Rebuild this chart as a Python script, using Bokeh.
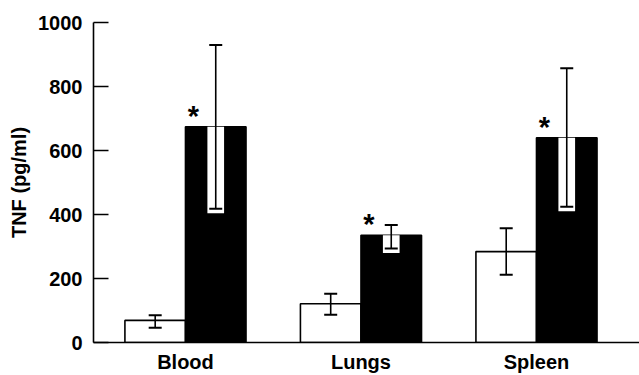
from bokeh.plotting import figure
from bokeh.models import Range1d, FixedTicker, Whisker, ColumnDataSource, TeeHead
from bokeh.core.properties import value
from bokeh.embed import file_html
from bokeh.resources import INLINE

tissues = ["Blood", "Lungs", "Spleen"]
control_mean = [69, 121, 284]
control_low = [46, 87, 212]
control_high = [85, 152, 357]
treated_mean = [674, 335, 640]
treated_low = [418, 294, 424]
treated_high = [930, 367, 857]
significance = ["*", "*", "*"]
y_ticks = [0, 200, 400, 600, 800, 1000]

FONT = "Liberation Sans"
BAR_W = 0.345
STRIP_W = 0.095
STRIP_PAD = 14

idx = list(range(len(tissues)))
x_ctrl = [i - BAR_W / 2 for i in idx]
x_trt = [i + BAR_W / 2 for i in idx]

p = figure(width=639, height=375, output_backend="svg", toolbar_location=None,
           x_range=Range1d(-0.524, 2.587), y_range=Range1d(0, 1000),
           min_border_left=93, min_border_right=0, min_border_top=22,
           min_border_bottom=31)
p.outline_line_color = None
p.xgrid.visible = False
p.ygrid.visible = False

# bars
p.vbar(x=x_ctrl, top=control_mean, bottom=0, width=BAR_W,
       fill_color="white", line_color="black", line_width=1.6)
p.vbar(x=x_trt, top=treated_mean, bottom=0, width=BAR_W,
       fill_color="black", line_color="black", line_width=1.6)

# white strip inside treated bars (lower error)
strip_bottom = [lo - STRIP_PAD for lo in treated_low]
p.quad(left=[x - STRIP_W / 2 for x in x_trt], right=[x + STRIP_W / 2 for x in x_trt],
       bottom=strip_bottom, top=treated_mean, fill_color="white", line_color=None)

# error bars
src_c = ColumnDataSource(dict(x=x_ctrl, lo=control_low, hi=control_high))
src_t = ColumnDataSource(dict(x=x_trt, lo=treated_low, hi=treated_high))
for src in (src_c, src_t):
    w = Whisker(source=src, base="x", lower="lo", upper="hi", level="overlay",
                line_color="black", line_width=1.6,
                upper_head=TeeHead(size=13, line_color="black", line_width=2),
                lower_head=TeeHead(size=13, line_color="black", line_width=2))
    p.add_layout(w)

# significance asterisks
p.text(x=[i + 0.045 for i in idx], y=treated_mean, text=significance,
       text_font=value(FONT), text_font_style="bold", text_font_size="29px",
       text_align="center", text_baseline="bottom", y_offset=5, text_color="black")

# axes
p.yaxis.ticker = FixedTicker(ticks=y_ticks)
p.yaxis.major_tick_in = 15
p.yaxis.major_tick_out = 0
p.yaxis.minor_tick_line_color = None
p.yaxis.axis_line_width = 1.6
p.yaxis.major_tick_line_width = 1.6
p.yaxis.major_label_standoff = 11
p.yaxis.major_label_text_font = FONT
p.yaxis.major_label_text_font_style = "bold"
p.yaxis.major_label_text_font_size = "20px"
p.yaxis.major_label_text_color = "black"
p.yaxis.axis_label = "TNF (pg/ml)"
p.yaxis.axis_label_text_font = FONT
p.yaxis.axis_label_text_font_style = "bold"
p.yaxis.axis_label_text_font_size = "20px"
p.yaxis.axis_label_text_color = "black"
p.yaxis.axis_label_standoff = 5

p.xaxis.ticker = FixedTicker(ticks=idx)
p.xaxis.major_label_overrides = {i: t for i, t in zip(idx, tissues)}
p.xaxis.major_tick_in = 0
p.xaxis.major_tick_out = 0
p.xaxis.minor_tick_line_color = None
p.xaxis.axis_line_width = 1.6
p.xaxis.major_label_standoff = 8
p.xaxis.major_label_text_font = FONT
p.xaxis.major_label_text_font_style = "bold"
p.xaxis.major_label_text_font_size = "20px"
p.xaxis.major_label_text_color = "black"

open("out.html", "w").write(file_html(p, INLINE))
